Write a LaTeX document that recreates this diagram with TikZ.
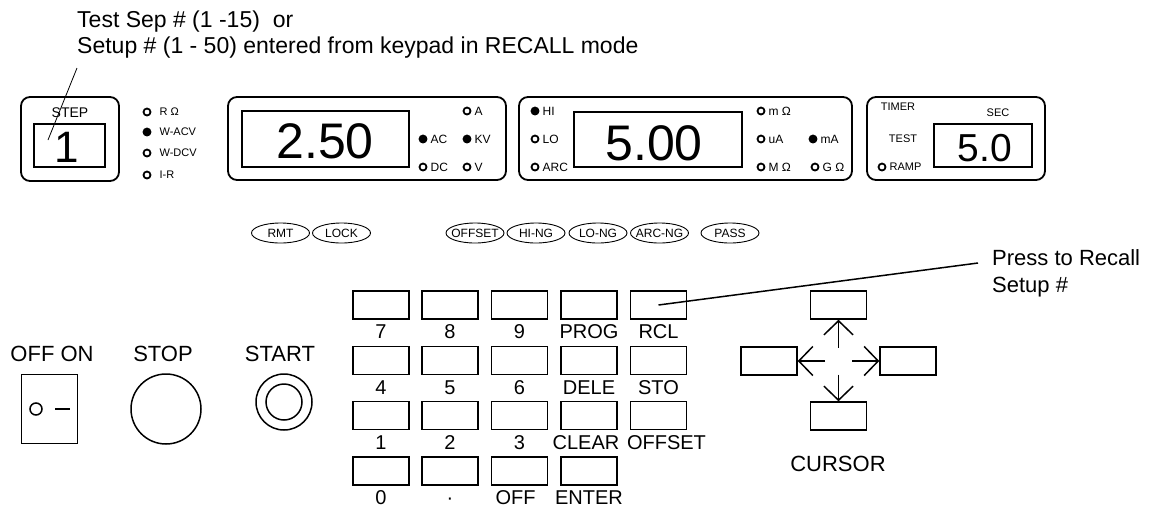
\documentclass[tikz,border=0pt]{standalone}
\usepackage{fontspec}
\setmainfont{Liberation Sans}
\usetikzlibrary{positioning,shapes.geometric,arrows.meta}
\newcommand{\setfs}[1]{\fontsize{#1}{#1}\selectfont}

\begin{document}
\begin{tikzpicture}[x=1pt,y=-1pt]
	\useasboundingbox (0,0) rectangle (1149,507);
	\tikzstyle{panel}=[draw,rounded corners=9pt,line width=1.8pt,inner sep=0pt]
	\tikzstyle{window}=[draw,line width=1.5pt,inner sep=0pt]
	\tikzstyle{digits}=[anchor=base,inner sep=0pt]
	\tikzstyle{led}=[circle,draw,line width=1.8pt,inner sep=0pt,minimum size=7pt]
	\tikzstyle{ledon}=[led,fill]
	\tikzstyle{ledtxt}=[font=\setfs{12},inner sep=0pt,xshift=3pt]
	\tikzstyle{modetxt}=[font=\setfs{11},inner sep=0pt]
	\tikzstyle{lamp}=[ellipse,draw,line width=0.9pt,minimum width=58pt,minimum height=20pt,inner xsep=-8pt,inner ysep=0pt,font=\setfs{12}]
	\tikzstyle{key}=[draw,line width=1.5pt,minimum width=56pt,minimum height=28pt,inner sep=0pt]
	\tikzstyle{keytxt}=[font=\setfs{20},inner sep=0pt,text height=14pt,text depth=0pt,yshift=-5pt]
	\tikzstyle{big}=[font=\setfs{22},inner sep=0pt,anchor=base]
	\tikzstyle{cur}=[line width=1.5pt,shorten <=13.5pt,-{Straight Barb[length=14pt,width=29pt]}]

	% note above the step display
	\node[font=\fontsize{23}{25.6}\selectfont,align=left,inner sep=0pt,anchor=north west] (note) at (77,11)
		{Test Sep \# (1 -15)\ \ or\\Setup \# (1 - 50) entered from keypad in RECALL mode};
	\coordinate (notept) at (77,68);
	\coordinate (stepptr) at (48,140);
	\draw[line width=0.8pt] (notept) -- (stepptr);

	% step display
	\node[panel,minimum width=98pt,minimum height=84pt] (stepbox) at (70,139) {};
	\node[window,minimum width=71pt,minimum height=43pt] (stepwin) at (69.5,145.5) {};
	\node[font=\setfs{14},inner sep=0pt] (steplbl) at (70,113) {STEP};
	\node[digits,font=\setfs{44}] (stepval) at (67,162) {1};

	% test mode lamps
	\node[led,label={[modetxt,xshift=8pt]right:R Ω}] (mR) at (147,112) {};
	\node[ledon,label={[modetxt,xshift=8pt]right:W-ACV}] (mACV) at (147,132) {};
	\node[led,label={[modetxt,xshift=8pt]right:W-DCV}] (mDCV) at (147,153) {};
	\node[led,label={[modetxt,xshift=8pt]right:I-R}] (mIR) at (147,175) {};

	% voltage display
	\node[panel,minimum width=278pt,minimum height=83pt] (voltbox) at (367,138.5) {};
	\node[window,minimum width=167pt,minimum height=56pt] (voltwin) at (325.5,139) {};
	\node[digits,font=\setfs{50}] (voltval) at (325,158) {2.50};
	\node[led,label={[ledtxt]right:A}] (vA) at (467,111) {};
	\node[ledon,label={[ledtxt]right:AC}] (vAC) at (423,139) {};
	\node[ledon,label={[ledtxt]right:KV}] (vKV) at (467,139) {};
	\node[led,label={[ledtxt]right:DC}] (vDC) at (423,167) {};
	\node[led,label={[ledtxt]right:V}] (vV) at (467,167) {};

	% current display
	\node[panel,minimum width=333pt,minimum height=83pt] (curbox) at (685.5,138.5) {};
	\node[window,minimum width=168pt,minimum height=55pt] (curwin) at (658,139.5) {};
	\node[digits,font=\setfs{50}] (curval) at (654,160) {5.00};
	\node[ledon,label={[ledtxt]right:HI}] (cHI) at (535,111) {};
	\node[led,label={[ledtxt]right:LO}] (cLO) at (535,139) {};
	\node[led,label={[ledtxt]right:ARC}] (cARC) at (535,167) {};
	\node[led,label={[ledtxt]right:m Ω}] (cmO) at (761,111) {};
	\node[led,label={[ledtxt]right:uA}] (cuA) at (761,139) {};
	\node[led,label={[ledtxt]right:M Ω}] (cMO) at (761,167) {};
	\node[ledon,label={[ledtxt]right:mA}] (cmA) at (813,139) {};
	\node[led,label={[ledtxt]right:G Ω}] (cGO) at (815,167) {};

	% timer display
	\node[panel,minimum width=178pt,minimum height=83pt] (timebox) at (956,138.5) {};
	\node[window,minimum width=98pt,minimum height=43pt] (timewin) at (983,145.5) {};
	\node[digits,font=\setfs{39}] (timeval) at (985,161) {5.0};
	\node[modetxt] (timer) at (898,107) {TIMER};
	\node[modetxt] (sec) at (998,113) {SEC};
	\node[modetxt] (test) at (903,139) {TEST};
	\node[led,label={[modetxt,xshift=3pt]right:RAMP}] (tRAMP) at (882,167) {};

	% status lamps
	\node[lamp] (rmt) at (280.5,233) {RMT};
	\node[lamp] (lock) at (341.5,233) {LOCK};
	\node[lamp] (offset) at (475,233) {OFFSET};
	\node[lamp] (hing) at (536,233) {HI-NG};
	\node[lamp] (long) at (598,233) {LO-NG};
	\node[lamp] (arcng) at (659.5,233) {ARC-NG};
	\node[lamp] (pass) at (730,233) {PASS};

	% power, stop and start
	\node[big] (offon) at (52,361) {OFF ON};
	\node[draw,line width=1pt,minimum width=56pt,minimum height=69pt] (power) at (49,408.5) {};
	\node[circle,draw,line width=1.5pt,minimum size=12pt,inner sep=0pt] (poweroff) at (36,409) {};
	\draw[line width=1.5pt] (55,409) -- (70,409);
	\node[big] (stoplbl) at (163,361) {STOP};
	\node[circle,draw,line width=1.5pt,minimum size=70pt] (stop) at (166,409) {};
	\node[big] (startlbl) at (280,361) {START};
	\node[circle,draw,line width=1.5pt,minimum size=56pt] (start) at (284,402) {};
	\node[circle,draw,line width=1.5pt,minimum size=36pt] (startin) at (284,402) {};

	% keypad
	\node[key,label={[keytxt]below:7}] (k7) at (381,305) {};
	\node[key,label={[keytxt]below:8}] (k8) at (450,305) {};
	\node[key,label={[keytxt]below:9}] (k9) at (519.5,305) {};
	\node[key,label={[keytxt]below:PROG}] (kPROG) at (589,305) {};
	\node[key,label={[keytxt]below:RCL}] (kRCL) at (658.5,305) {};
	\node[key,label={[keytxt]below:4}] (k4) at (381,360.5) {};
	\node[key,label={[keytxt]below:5}] (k5) at (450,360.5) {};
	\node[key,label={[keytxt]below:6}] (k6) at (519.5,360.5) {};
	\node[key,label={[keytxt]below:DELE}] (kDELE) at (589,360.5) {};
	\node[key,label={[keytxt]below:STO}] (kSTO) at (658.5,360.5) {};
	\node[key,label={[keytxt]below:1}] (k1) at (381,415.5) {};
	\node[key,label={[keytxt]below:2}] (k2) at (450,415.5) {};
	\node[key,label={[keytxt]below:3}] (k3) at (519.5,415.5) {};
	\node[key,label={[keytxt,xshift=-3pt]below:CLEAR}] (kCLEAR) at (589,415.5) {};
	\node[key,label={[keytxt,xshift=8pt]below:OFFSET}] (kOFFSET) at (658.5,415.5) {};
	\node[key,label={[keytxt]below:0}] (k0) at (381,471) {};
	\node[key,label={[keytxt]below:·}] (kdot) at (450,471) {};
	\node[key,label={[keytxt,xshift=-4pt]below:OFF}] (kOFF) at (519.5,471) {};
	\node[key,label={[keytxt]below:ENTER}] (kENTER) at (589,471) {};

	% recall note
	\node[font=\fontsize{22}{27}\selectfont,align=left,inner sep=0pt,anchor=north west] (press) at (992,249.5)
		{Press to Recall\\Setup \#};
	\coordinate (presspt) at (978,263);
	\draw[line width=1.5pt] (kRCL.center) -- (presspt);

	% cursor keys
	\coordinate (cc) at (838.5,361);
	\node[key] (kup) at (838.5,305) {};
	\node[key] (kleft) at (769,361) {};
	\node[key] (kright) at (908,361) {};
	\node[key] (kdown) at (838.5,416) {};
	\draw[cur] (cc) -- (kup);
	\draw[cur] (cc) -- (kleft);
	\draw[cur] (cc) -- (kright);
	\draw[cur] (cc) -- (kdown);
	\node[big] (cursor) at (838,471) {CURSOR};
\end{tikzpicture}
\end{document}
